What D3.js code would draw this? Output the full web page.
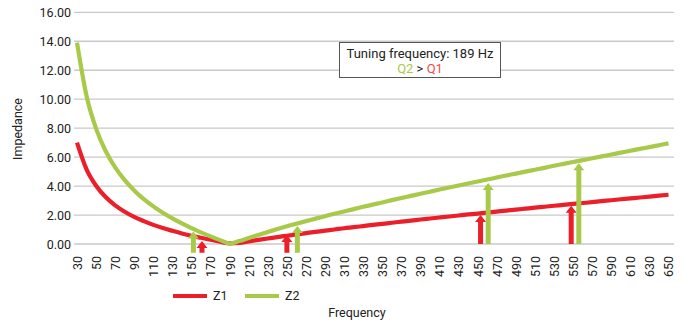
<!DOCTYPE html>
<html>
<head>
<meta charset="utf-8">
<script src="https://cdn.jsdelivr.net/npm/d3@7"></script>
<style>
  html, body { margin: 0; padding: 0; background: #fff; }
  svg { display: block; font-family: Roboto, "Noto Sans", sans-serif; }
</style>
</head>
<body>
<svg id="chart" width="682" height="325"></svg>
<script>
// Frequency steps (Hz)
const frequencies = d3.range(30, 651, 10);

// Impedance of the two circuits at each frequency
const z1Values = [
  7.00, 5.15, 4.02, 3.24, 2.67, 2.23, 1.87, 1.58, 1.32, 1.10,
  0.91, 0.73, 0.57, 0.43, 0.29, 0.16, 0.04, 0.07, 0.18, 0.28,
  0.38, 0.48, 0.57, 0.66, 0.75, 0.84, 0.92, 1.00, 1.09, 1.16,
  1.24, 1.32, 1.39, 1.47, 1.54, 1.61, 1.69, 1.76, 1.83, 1.90,
  1.97, 2.04, 2.10, 2.17, 2.24, 2.31, 2.37, 2.44, 2.51, 2.57,
  2.64, 2.70, 2.77, 2.83, 2.89, 2.96, 3.02, 3.09, 3.15, 3.21,
  3.27, 3.34, 3.40
];
const z2Values = [
  13.90, 10.22, 7.97, 6.42, 5.29, 4.41, 3.70, 3.10, 2.60, 2.16,
  1.77, 1.42, 1.09, 0.80, 0.53, 0.27, 0.03, 0.20, 0.42, 0.63,
  0.83, 1.03, 1.22, 1.40, 1.58, 1.75, 1.92, 2.09, 2.25, 2.41,
  2.57, 2.72, 2.87, 3.03, 3.18, 3.32, 3.47, 3.61, 3.76, 3.90,
  4.04, 4.18, 4.32, 4.45, 4.59, 4.73, 4.86, 5.00, 5.13, 5.26,
  5.40, 5.53, 5.66, 5.79, 5.92, 6.05, 6.18, 6.31, 6.44, 6.57,
  6.69, 6.82, 6.95
];

// Axis ticks
const xTickValues = d3.range(30, 651, 20);
const yTickValues = [0, 2, 4, 6, 8, 10, 12, 14, 16];

// Marker arrows: frequency, series, start and tip impedance
const arrowFreqs  = [152, 161, 250, 261, 453, 461, 548, 556];
const arrowSeries = ["Z2", "Z1", "Z1", "Z2", "Z1", "Z2", "Z1", "Z2"];
const arrowBases  = [-0.6, -0.6, -0.6, -0.6, 0, 0, 0, 0];
const arrowTips   = [0.86, 0.2, 0.62, 1.25, 2.0, 4.22, 2.64, 5.57];

const seriesNames = ["Z1", "Z2"];
const colors = { Z1: "#ea1f2a", Z2: "#a9c94a" };

const svg = d3.select("#chart");

const x = d3.scaleLinear().domain([30, 650]).range([77, 668.5]);
const y = d3.scaleLinear().domain([0, 16]).range([244, 12.3]);

// Horizontal gridlines
svg.append("g")
  .selectAll("line")
  .data(yTickValues)
  .join("line")
  .attr("x1", 74).attr("x2", 674)
  .attr("y1", d => y(d)).attr("y2", d => y(d))
  .attr("stroke", "#c9c9c9")
  .attr("stroke-width", 1.3);

// Y axis labels
const yAxis = d3.axisLeft(y)
  .tickValues(yTickValues)
  .tickFormat(d3.format(".2f"))
  .tickSize(0)
  .tickPadding(0);
const yg = svg.append("g").attr("transform", "translate(71,0)").call(yAxis);
yg.select(".domain").remove();
yg.selectAll("text")
  .attr("font-size", 12.5)
  .attr("fill", "#222")
  .attr("font-family", "Roboto, sans-serif");

// X axis labels, rotated
const xAxis = d3.axisBottom(x)
  .tickValues(xTickValues)
  .tickFormat(d3.format("d"))
  .tickSize(0)
  .tickPadding(0);
const xg = svg.append("g").attr("transform", "translate(0,256)").call(xAxis);
xg.select(".domain").remove();
xg.selectAll("text")
  .attr("font-size", 12.5)
  .attr("fill", "#222")
  .attr("font-family", "Roboto, sans-serif")
  .attr("transform", "rotate(-90)")
  .attr("text-anchor", "end")
  .attr("x", 0)
  .attr("y", 0)
  .attr("dy", "0.35em");

// Impedance curves
const line = d3.line()
  .x((d, i) => x(frequencies[i]))
  .y(d => y(d))
  .curve(d3.curveMonotoneX);

const seriesData = { Z1: z1Values, Z2: z2Values };
svg.append("g")
  .selectAll("path")
  .data(seriesNames)
  .join("path")
  .attr("d", s => line(seriesData[s]))
  .attr("fill", "none")
  .attr("stroke", s => colors[s])
  .attr("stroke-width", 4.2)
  .attr("stroke-linejoin", "round");

// Arrows pointing to the curves
const arrows = arrowFreqs.map((f, i) => ({
  f, s: arrowSeries[i], base: arrowBases[i], tip: arrowTips[i]
}));
const shaftW = 5, headW = 11, headH = 7;
svg.append("g")
  .selectAll("path")
  .data(arrows)
  .join("path")
  .attr("d", a => {
    const cx = x(a.f), yb = y(a.base), yt = y(a.tip);
    return `M${cx - shaftW / 2},${yb} L${cx - shaftW / 2},${yt + headH} ` +
      `L${cx - headW / 2},${yt + headH} L${cx},${yt} L${cx + headW / 2},${yt + headH} ` +
      `L${cx + shaftW / 2},${yt + headH} L${cx + shaftW / 2},${yb} Z`;
  })
  .attr("fill", a => colors[a.s]);

// Annotation box
const box = svg.append("g");
box.append("rect")
  .attr("x", 339.5).attr("y", 42.5)
  .attr("width", 161).attr("height", 35)
  .attr("fill", "#fff")
  .attr("stroke", "#555")
  .attr("stroke-width", 1);
box.append("text")
  .attr("x", 420).attr("y", 57.5)
  .attr("text-anchor", "middle")
  .attr("font-size", 13)
  .attr("fill", "#222")
  .text("Tuning frequency: 189 Hz");
const t2 = box.append("text")
  .attr("x", 420).attr("y", 73)
  .attr("text-anchor", "middle")
  .attr("font-size", 13);
t2.append("tspan").attr("fill", "#a9c94a").text("Q2");
t2.append("tspan").attr("fill", "#222").text(" > ");
t2.append("tspan").attr("fill", "#f04a4a").text("Q1");

// Axis titles
svg.append("text")
  .attr("transform", "translate(22,129) rotate(-90)")
  .attr("text-anchor", "middle")
  .attr("font-size", 12.5)
  .attr("fill", "#222")
  .text("Impedance");
svg.append("text")
  .attr("x", 357).attr("y", 317)
  .attr("text-anchor", "middle")
  .attr("font-size", 12.5)
  .attr("fill", "#222")
  .text("Frequency");

// Legend
const legendX = [173, 245];
const legend = svg.append("g")
  .selectAll("g")
  .data(seriesNames)
  .join("g")
  .attr("transform", (d, i) => `translate(${legendX[i]},296)`);
legend.append("line")
  .attr("x1", 0).attr("x2", 34)
  .attr("y1", 0).attr("y2", 0)
  .attr("stroke", d => colors[d])
  .attr("stroke-width", 4.2);
legend.append("text")
  .attr("x", (d, i) => i === 0 ? 40 : 40)
  .attr("y", 0)
  .attr("dy", "0.35em")
  .attr("font-size", 12.5)
  .attr("fill", "#222")
  .text(d => d);
</script>
</body>
</html>
